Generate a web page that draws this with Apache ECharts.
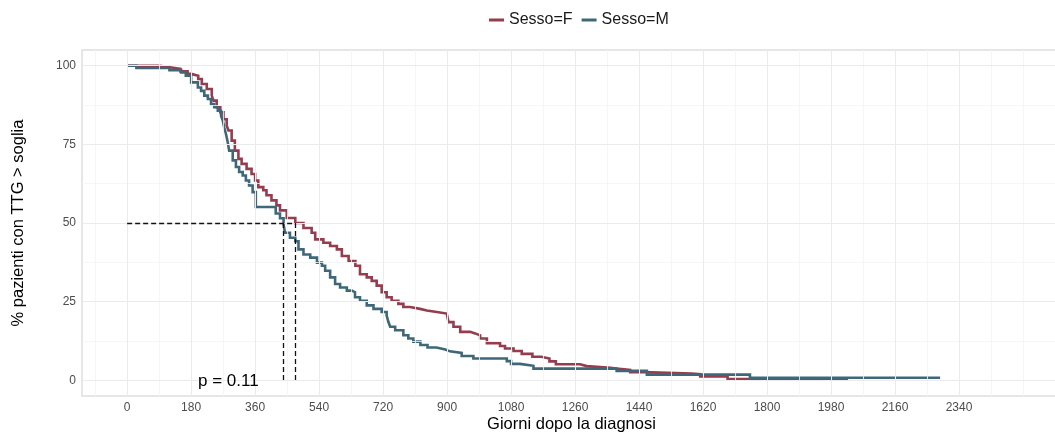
<!DOCTYPE html>
<html>
<head>
<meta charset="utf-8">
<script src="https://cdn.jsdelivr.net/npm/echarts@6/dist/echarts.min.js"></script>
<style>
  html, body { margin: 0; padding: 0; background: #fff; }
  #km { width: 1055px; height: 432px; }
</style>
</head>
<body>
<div id="km"></div>
<script>
// curve di sopravvivenza (giorni, % pazienti con TTG > soglia)
var sessoF = [
  [0,100],[92,99.5],[120,99],[150,98.2],[170,97.4],[180,96.8],[200,95.8],[210,94.2],
  [224,92.6],[238,90.5],[243,88.9],[252,86.8],[262,85.2],[271,83],[280,81],[285,79.4],
  [294,76.2],[303,73],[313,70.4],[322,68.8],[336,67.2],[350,65.6],[360,63.5],[369,61.4],
  [383,60.4],[392,58.8],[406,57.2],[420,55.6],[430,54],[449,51.6],[473,50],[496,48.4],
  [519,46.9],[529,44.8],[552,43.7],[571,42.7],[590,41.6],[604,39.5],[623,37.9],[642,36.4],
  [655,33.7],[674,32.7],[688,31.6],[702,30.1],[716,28],[730,26.4],[744,25.3],[763,24.3],
  [777,23.3],[796,22.7],[824,22.2],[843,21.7],[871,21.2],[899,20.6],[904,18.5],[918,17],
  [937,15.4],[965,14.9],[979,14.3],[993,13.3],[1012,11.8],[1049,10.9],[1063,10.1],[1087,9.3],
  [1110,8.4],[1140,7.5],[1165,6.9],[1188,6.0],[1206,5.1],[1274,4.5],[1293,4.0],[1359,3.7],
  [1377,3.3],[1415,2.6],[1452,2.1],[1588,1.9],[1612,1.2],[1689,0.4],[2028,0.4]
];
var sessoM = [
  [0,100],[26,99.3],[119,98.6],[152,97.9],[165,96.8],[180,94.7],[199,93.1],[208,92],
  [217,90.5],[227,89.4],[236,87.8],[245,86.8],[255,85.7],[264,84.1],[269,82.6],[273,80.4],
  [278,78.3],[283,75.7],[287,73],[297,69.9],[306,67.8],[315,66.2],[325,65.1],[334,63.5],
  [343,61.9],[353,59.8],[362,55.1],[418,53],[430,51.5],[440,49.5],[444,46.9],[458,45.3],
  [473,44.2],[482,41.6],[496,40],[515,39],[534,37.4],[548,36.4],[557,34.8],[571,32.7],
  [585,30.6],[599,29.5],[618,28.5],[632,28],[641,26.4],[655,25.3],[674,23.8],[693,22.7],
  [716,21.7],[730,20.6],[735,18.5],[740,17],[754,15.9],[777,14.3],[791,13.3],[805,12.3],
  [825,11.2],[845,10.4],[870,9.8],[895,9.2],[908,8.7],[941,7.7],[974,6.9],[1068,6.1],
  [1080,5.2],[1105,4.6],[1143,3.7],[1377,3.0],[1462,1.8],[1752,0.8],[2287,0.8]
];
var xTicks = [0,180,360,540,720,900,1080,1260,1440,1620,1800,1980,2160,2340];
var xMinor = [-90,90,270,450,630,810,990,1170,1350,1530,1710,1890,2070,2250,2430,2520];
var yTicks = [0,25,50,75,100];
var yMinor = [12.5,37.5,62.5,87.5];
var mediane = [438, 472];   // mediana M, mediana F
var pValue = 'p = 0.11';

var colF = '#963c4f', colM = '#3e6878';
var font = 'Liberation Sans, Arial, sans-serif';

var dom = document.getElementById('km');
var chart = echarts.init(dom, null, { renderer: 'canvas' });

// griglia stile ggplot fatta con markLine
var gridLines = [];
xMinor.forEach(function (v) { gridLines.push({ xAxis: v, lineStyle: { color: '#f4f4f4', width: 0.8, type: 'solid' } }); });
yMinor.forEach(function (v) { gridLines.push({ yAxis: v, lineStyle: { color: '#f4f4f4', width: 0.8, type: 'solid' } }); });
xTicks.forEach(function (v) { gridLines.push({ xAxis: v, lineStyle: { color: '#ebebeb', width: 1, type: 'solid' } }); });
yTicks.forEach(function (v) { gridLines.push({ yAxis: v, lineStyle: { color: '#ebebeb', width: 1, type: 'solid' } }); });

var dashStyle = { color: '#111', width: 1.3, type: [5, 3] };

var option = {
  animation: false,
  textStyle: { fontFamily: font },
  legend: {
    top: 7,
    left: 484,
    data: ['Sesso=F', 'Sesso=M'],
    icon: 'rect',
    itemWidth: 15,
    itemHeight: 3,
    itemGap: 9,
    textStyle: { fontSize: 16, color: '#1a1a1a' }
  },
  grid: {
    left: 82, right: -6, top: 50, bottom: 36,
    outerBoundsMode: 'none', containLabel: false,
    show: true, borderColor: '#dedede', borderWidth: 1.5, backgroundColor: '#fff'
  },
  xAxis: {
    type: 'value',
    min: -127, max: 2627,
    name: 'Giorni dopo la diagnosi',
    nameLocation: 'middle',
    nameMoveOverlap: false,
    nameGap: 20,
    nameTextStyle: { fontSize: 16.5, color: '#000' },
    axisLine: { show: false },
    splitLine: { show: false },
    axisTick: { show: true, length: 4, customValues: xTicks, lineStyle: { color: '#b3b3b3' } },
    axisLabel: {
      customValues: xTicks, fontSize: 12, color: '#4d4d4d', margin: 6,
      formatter: function (v) { return String(v); }
    }
  },
  yAxis: {
    type: 'value',
    min: -5, max: 105,
    name: '% pazienti con TTG > soglia',
    nameLocation: 'middle',
    nameMoveOverlap: false,
    nameRotate: 90,
    nameGap: 55,
    nameTextStyle: { fontSize: 16.5, color: '#000' },
    axisLine: { show: false },
    splitLine: { show: false },
    axisTick: { show: true, length: 4, customValues: yTicks, lineStyle: { color: '#b3b3b3' } },
    axisLabel: {
      customValues: yTicks, fontSize: 12, color: '#4d4d4d', margin: 6,
      formatter: function (v) { return String(v); }
    }
  },
  series: [
    {
      name: 'griglia', type: 'line', data: [], silent: true, z: 1,
      markLine: { silent: true, symbol: 'none', label: { show: false }, animation: false, data: gridLines }
    },
    {
      name: 'mediane', type: 'line', data: [], silent: true, z: 4,
      markLine: {
        silent: true, symbol: 'none', label: { show: false }, animation: false, lineStyle: dashStyle,
        data: [
          [{ coord: [0, 50] }, { coord: [mediane[1], 50] }],
          [{ coord: [mediane[0], 50] }, { coord: [mediane[0], 0] }],
          [{ coord: [mediane[1], 50] }, { coord: [mediane[1], 0] }]
        ]
      }
    },
    {
      name: 'Sesso=F', type: 'line', step: 'end', data: sessoF, z: 3, sampling: null,
      showSymbol: false, color: colF, lineStyle: { width: 2.6, color: colF, join: 'miter' }
    },
    {
      name: 'Sesso=M', type: 'line', step: 'end', data: sessoM, z: 3, sampling: null,
      showSymbol: false, color: colM, lineStyle: { width: 2.6, color: colM, join: 'miter' }
    }
  ],
  graphic: [
    { type: 'text', z: 100, left: 198, top: 373, style: { text: pValue, fontSize: 17, fill: '#000', fontFamily: font } }
  ]
};

chart.setOption(option);
</script>
</body>
</html>
